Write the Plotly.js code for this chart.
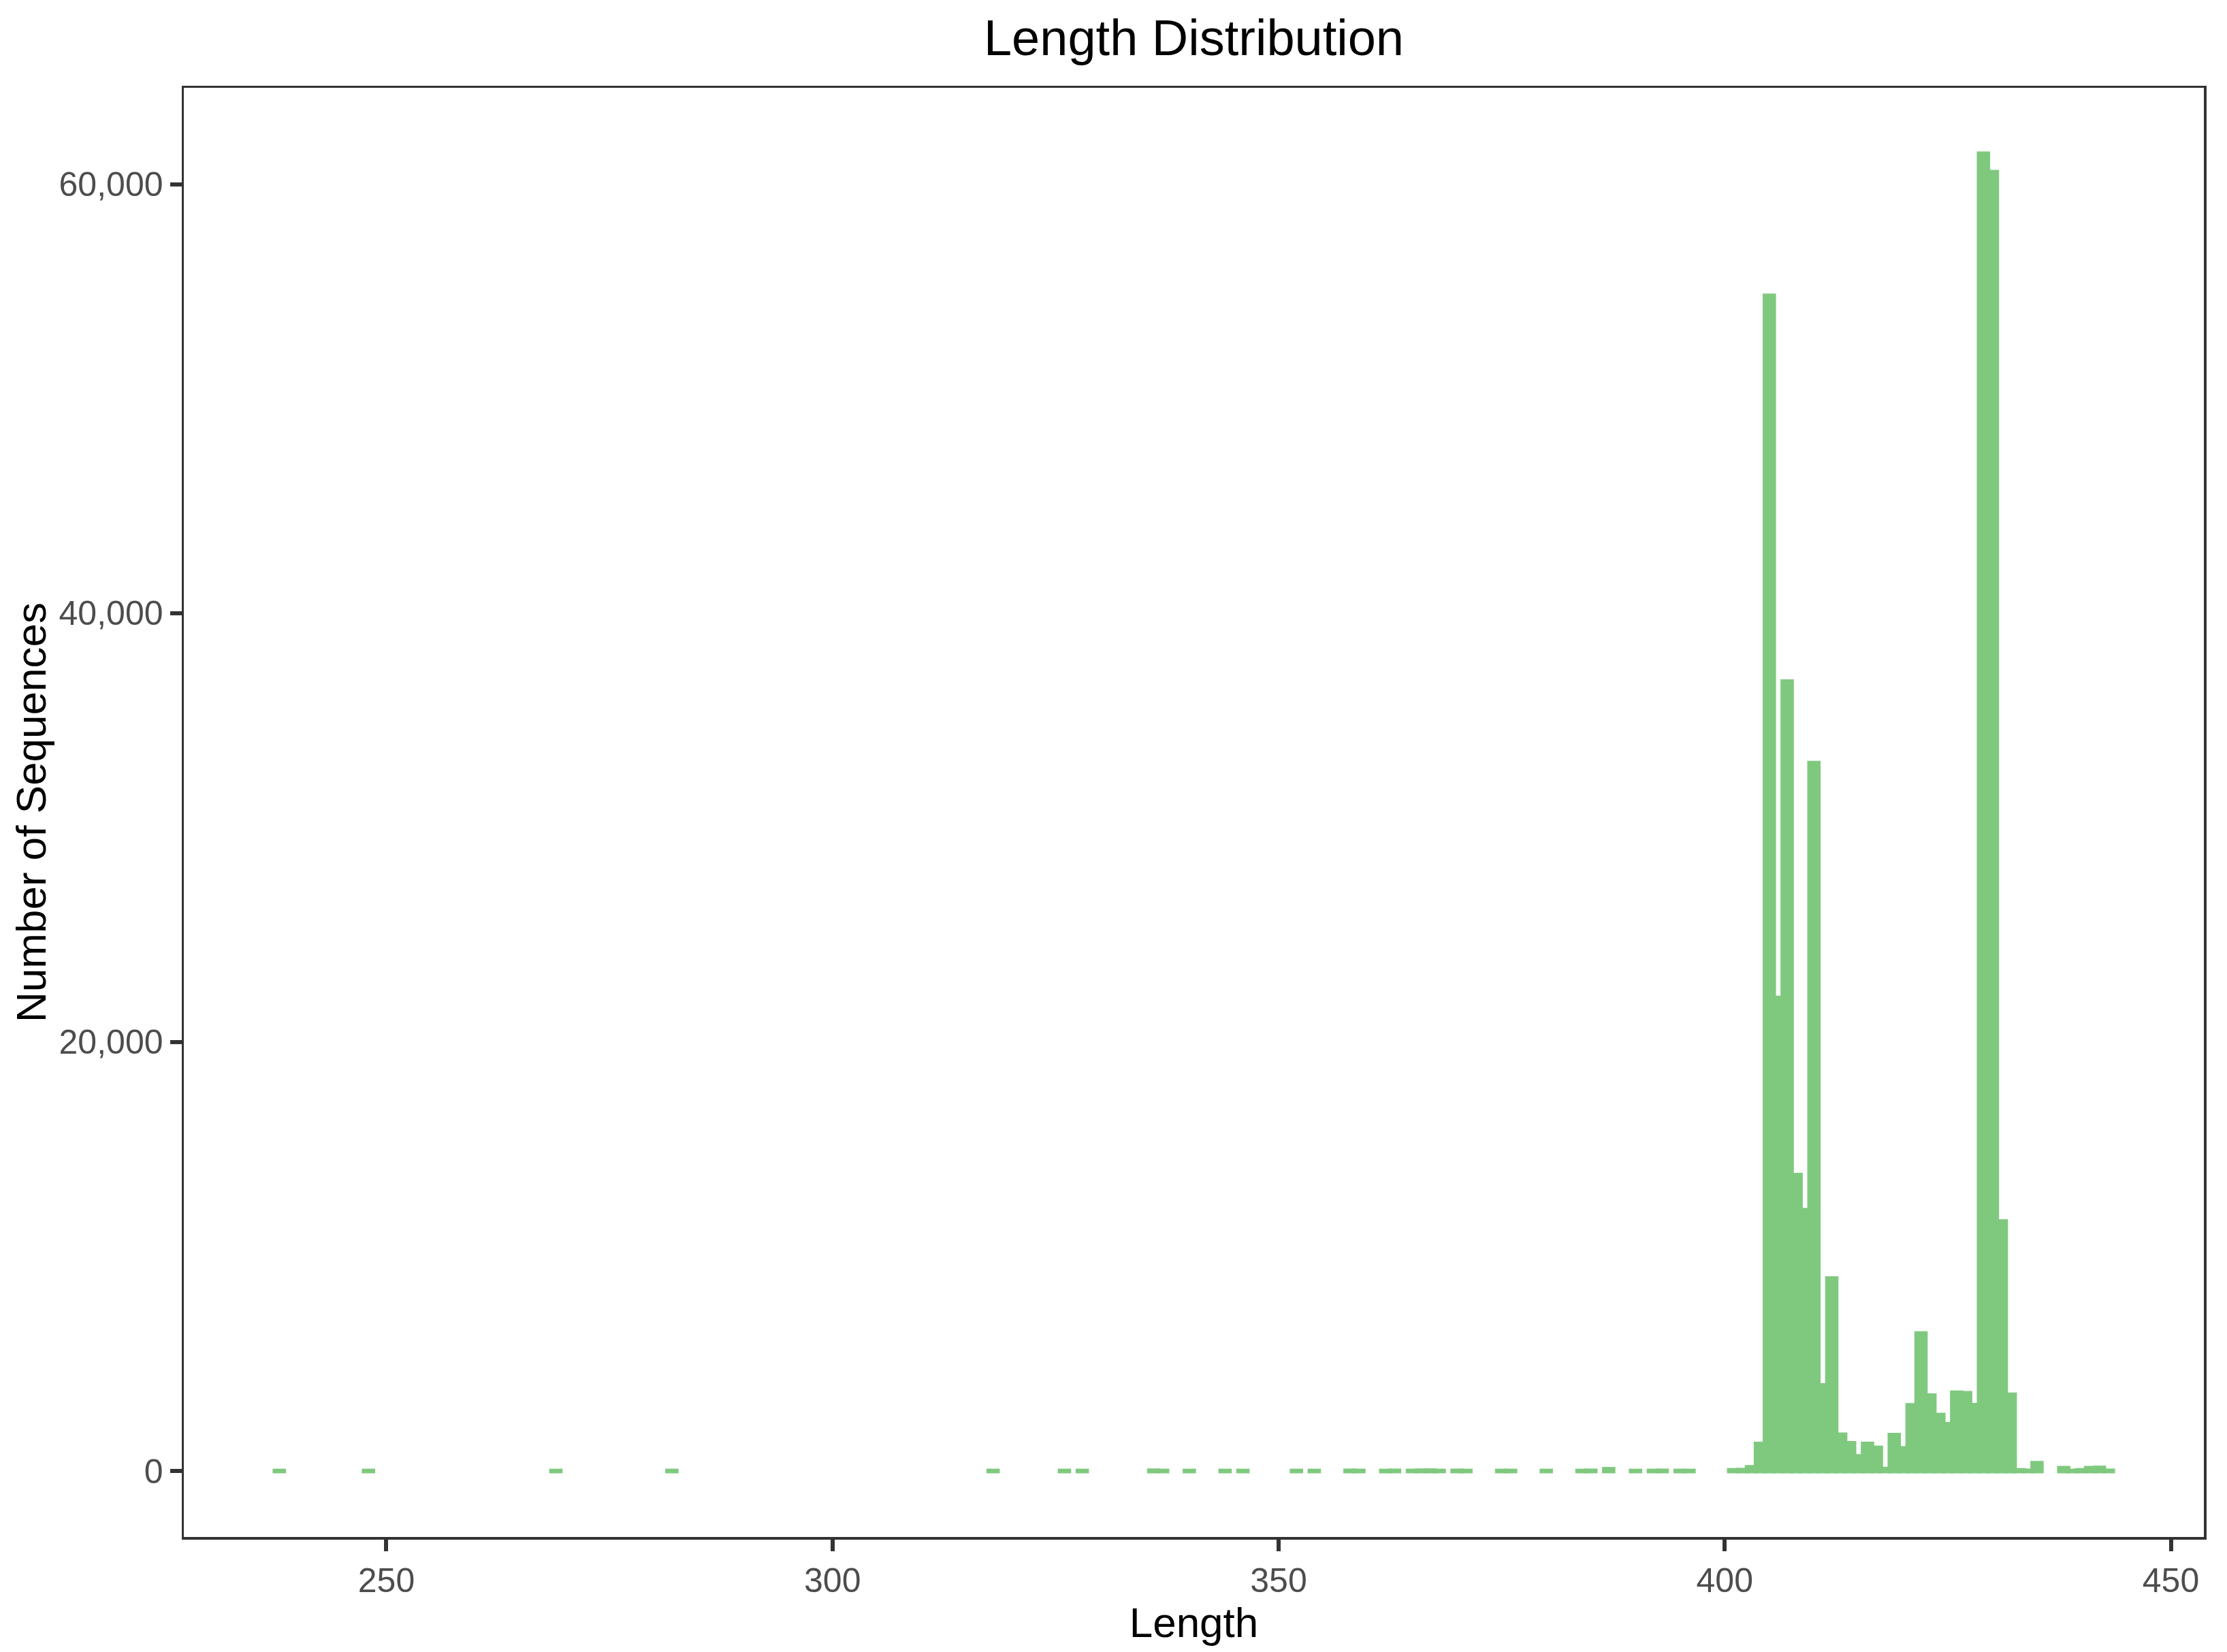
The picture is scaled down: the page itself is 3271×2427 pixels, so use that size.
<!DOCTYPE html>
<html>
<head>
<meta charset="utf-8">
<script src="https://cdn.plot.ly/plotly-3.0.1.min.js"></script>
<style>
html,body{margin:0;padding:0;background:#ffffff;}
#chart{width:3271px;height:2427px;}
</style>
</head>
<body>
<div id="chart"></div>
<script>
// Sequence length (bin centre, width 1) and number of sequences per length
const lengths = [
  238, 248, 269, 282, 318, 326, 328, 336, 337, 340, 344, 346, 352, 354, 358, 359,
  362, 363, 365, 366, 367, 368, 370, 371, 375, 376, 380, 384, 385, 387, 390, 392,
  393, 395, 396,
  401, 402, 403, 404, 405, 406, 407, 408, 409, 410, 411, 412, 413, 414, 415, 416,
  417, 418, 419, 420, 421, 422, 423, 424, 425, 426, 427, 428, 429, 430, 431, 432,
  433, 434, 435, 438, 439, 440, 441, 442, 443
];
const counts = [
  10, 10, 10, 10, 10, 10, 10, 20, 10, 10, 10, 10, 10, 10, 15, 10,
  10, 15, 10, 20, 25, 10, 15, 10, 10, 10, 10, 10, 15, 90, 10, 10,
  15, 10, 10,
  40, 50, 180, 1270, 54800, 22060, 36810, 13800, 12170, 33010, 4000, 8980, 1695, 1300, 690, 1270,
  1090, 100, 1680, 1060, 3070, 6420, 3520, 2615, 2190, 3660, 3630, 3080, 61420, 60560, 11640, 3560,
  40, 15, 370, 140, 10, 40, 140, 150, 15
];
const xTickVals = [250, 300, 350, 400, 450];
const yTickVals = [0, 20000, 40000, 60000];
const titleText = "Length Distribution";
const xTitle = "Length";
const yTitle = "Number of Sequences";

const barColor = "#7FC97F";
const fontFamily = "Liberation Sans, Arial, Helvetica, sans-serif";

const trace = {
  type: "bar",
  x: lengths,
  y: counts,
  width: 1,
  marker: { color: barColor, line: { color: barColor, width: 6.5 } },
  hoverinfo: "x+y"
};

const axisCommon = {
  showgrid: false,
  zeroline: false,
  showline: true,
  linecolor: "#333333",
  linewidth: 3.5,
  mirror: true,
  ticks: "outside",
  ticklen: 17,
  tickwidth: 6,
  tickcolor: "#333333",
  tickfont: { family: fontFamily, size: 50, color: "#4D4D4D" }
};

const layout = {
  width: 3271,
  height: 2427,
  paper_bgcolor: "#ffffff",
  plot_bgcolor: "#ffffff",
  margin: { l: 270, r: 34, t: 129, b: 169 },
  showlegend: false,
  title: {
    text: titleText,
    font: { family: fontFamily, size: 74, color: "#000000" },
    x: 0.5, xref: "paper", xanchor: "center",
    y: 1 - 55 / 2427, yref: "container", yanchor: "middle"
  },
  xaxis: Object.assign({}, axisCommon, {
    range: [227.3, 453.7],
    tickmode: "array",
    tickvals: xTickVals,
    ticktext: xTickVals.map(String),
    automargin: true,
    title: { text: xTitle, font: { family: fontFamily, size: 62, color: "#000000" }, standoff: 0 }
  }),
  yaxis: Object.assign({}, axisCommon, {
    range: [-3071, 64491],
    tickmode: "array",
    tickvals: yTickVals,
    ticktext: yTickVals.map(v => v.toLocaleString("en-US")),
    automargin: true,
    title: { text: yTitle, font: { family: fontFamily, size: 62, color: "#000000" }, standoff: 0 }
  })
};

Plotly.newPlot("chart", [trace], layout, { staticPlot: true, displayModeBar: false });
</script>
</body>
</html>
